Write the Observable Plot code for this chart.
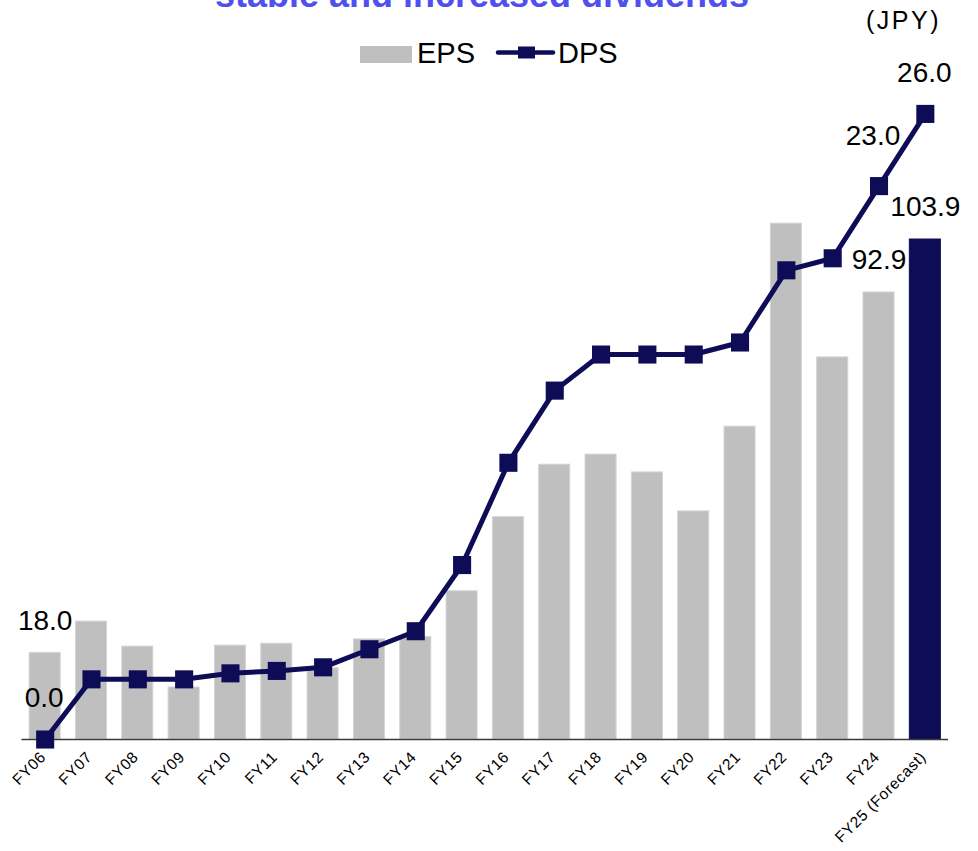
<!DOCTYPE html>
<html>
<head>
<meta charset="utf-8">
<script src="https://cdn.jsdelivr.net/npm/d3@7"></script>
<script src="https://cdn.jsdelivr.net/npm/@observablehq/plot@0.6"></script>
<style>
  body { margin: 0; background: #fff; }
  #chart { position: relative; width: 978px; height: 851px; overflow: hidden; }
  #chart svg { position: absolute; left: 0; top: 0; }
</style>
</head>
<body>
<div id="chart"></div>
<script>
// Fiscal years on the x axis
const fiscalYears = [
  "FY06", "FY07", "FY08", "FY09", "FY10", "FY11", "FY12", "FY13", "FY14", "FY15",
  "FY16", "FY17", "FY18", "FY19", "FY20", "FY21", "FY22", "FY23", "FY24", "FY25 (Forecast)"
];
// Earnings per share (JPY)
const eps = [18.0, 24.5, 19.3, 10.8, 19.5, 19.9, 14.8, 20.8, 21.3, 30.8,
             46.2, 57.1, 59.2, 55.5, 47.4, 65.0, 107.2, 79.4, 92.9, 103.9];
// Dividends per share (JPY)
const dps = [0.0, 2.5, 2.5, 2.5, 2.75, 2.85, 3.0, 3.75, 4.5, 7.25,
             11.5, 14.5, 16.0, 16.0, 16.0, 16.5, 19.5, 20.0, 23.0, 26.0];
// Years whose values are printed
const epsLabelYears = ["FY06", "FY24", "FY25 (Forecast)"];
const dpsLabelYears = ["FY06", "FY24", "FY25 (Forecast)"];

const NAVY = "#0f0c57";
const GRAY = "#bfbfbf";
// DPS shares the EPS axis at a fixed 1:5 ratio (secondary axis)
const DPS_RATIO = 5;

const rows = fiscalYears.map((fy, i) => ({
  fy, eps: eps[i], dps: dps[i], forecast: fy.includes("Forecast")
}));
const epsLabels = rows.filter(d => epsLabelYears.includes(d.fy));
const dpsLabels = rows.filter(d => dpsLabelYears.includes(d.fy));
const dpsY = d => d.dps * DPS_RATIO;
const fmt = v => v.toFixed(1);
const labelFont = "Liberation Sans, Arial, sans-serif";

const chart = Plot.plot({
  width: 978,
  height: 851,
  marginTop: 60,
  marginBottom: 112,
  marginLeft: 21.5,
  marginRight: 30,
  style: { background: "transparent", fontFamily: labelFont, overflow: "visible" },
  x: { domain: fiscalYears, paddingInner: 0.33, paddingOuter: 0.165, round: false, label: null },
  y: { domain: [0, 141.1], axis: null },
  marks: [
    Plot.barY(rows, {
      x: "fy", y: "eps",
      fill: d => d.forecast ? NAVY : GRAY,
      stroke: d => d.forecast ? NAVY : "#d4d4d4",
      strokeWidth: 1
    }),
    Plot.ruleY([0], { stroke: "#3a3a3a", strokeWidth: 1.5 }),
    Plot.line(rows, { x: "fy", y: dpsY, stroke: NAVY, strokeWidth: 5 }),
    Plot.dot(rows, { x: "fy", y: dpsY, symbol: "square", r: 10.2, fill: NAVY, stroke: "none" }),
    // EPS values above their bars
    Plot.text(epsLabels, {
      x: "fy", y: "eps", text: d => fmt(d.eps),
      dy: -32, fontSize: 28, fill: "#000", fontFamily: labelFont
    }),
    // DPS values above their markers
    Plot.text(dpsLabels.filter(d => d.fy !== "FY24"), {
      x: "fy", y: dpsY, text: d => fmt(d.dps),
      dx: -1, dy: -41, fontSize: 28, fill: "#000", fontFamily: labelFont
    }),
    Plot.text(dpsLabels.filter(d => d.fy === "FY24"), {
      x: "fy", y: dpsY, text: d => fmt(d.dps),
      dx: -6, dy: -50, fontSize: 28, fill: "#000", fontFamily: labelFont
    }),
    Plot.axisX({
      tickRotate: -45, tickSize: 0, tickPadding: 15, dx: -2,
      fontSize: 15.5, fill: "#000", fontFamily: labelFont
    })
  ]
});
document.getElementById("chart").appendChild(chart);
d3.select(chart).selectAll("g[aria-label='x-axis tick label'] text")
  .attr("letter-spacing", 0.6);

// Title, legend and unit drawn above the plot
const head = d3.select("#chart").append("svg")
  .attr("width", 978).attr("height", 80)
  .style("font-family", labelFont);

head.append("text")
  .attr("x", 482).attr("y", 7)
  .attr("text-anchor", "middle")
  .attr("font-size", 36).attr("font-weight", "bold")
  .attr("fill", "#5050ee")
  .text("stable and increased dividends");

head.append("text")
  .attr("x", 866).attr("y", 28.5)
  .attr("font-size", 25).attr("letter-spacing", 2.5)
  .attr("fill", "#000")
  .text("(JPY)");

const legend = head.append("g");
legend.append("rect").attr("x", 360).attr("y", 46).attr("width", 52).attr("height", 17).attr("fill", GRAY);
legend.append("text").attr("x", 417).attr("y", 63).attr("font-size", 29).attr("fill", "#000").text("EPS");
legend.append("line").attr("x1", 498).attr("x2", 553).attr("y1", 52.5).attr("y2", 52.5)
  .attr("stroke", NAVY).attr("stroke-width", 4.5).attr("stroke-linecap", "round");
legend.append("rect").attr("x", 518).attr("y", 46.5).attr("width", 17).attr("height", 12).attr("fill", NAVY);
legend.append("text").attr("x", 558).attr("y", 63).attr("font-size", 29).attr("fill", "#000").text("DPS");
</script>
</body>
</html>
